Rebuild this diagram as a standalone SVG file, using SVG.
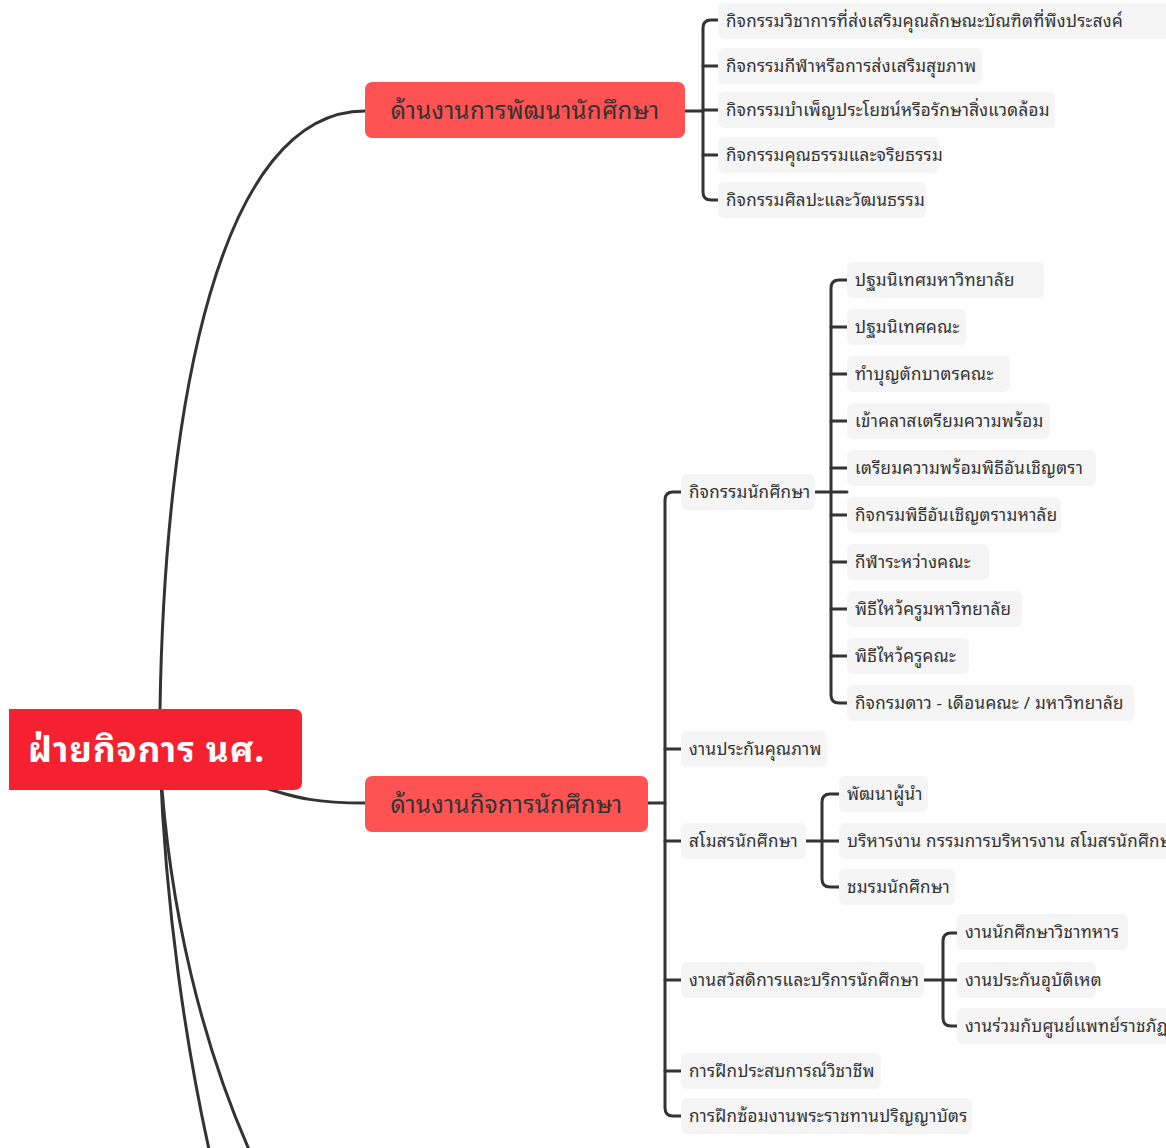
<svg xmlns="http://www.w3.org/2000/svg" width="1166" height="1148" viewBox="0 0 1166 1148">
<style>
.c{fill:none;stroke:#333;stroke-width:3;stroke-linecap:round;stroke-linejoin:round}
text{font-family:"Noto Sans Thai Looped","Noto Sans Thai","Noto Sans","DejaVu Sans",sans-serif}
.leaf rect{fill:#f5f5f5}
.leaf text{font-size:17px;fill:#333;letter-spacing:0.3px}
.main rect{fill:#ff5252}
.main text{font-size:24px;fill:#333;text-anchor:middle;letter-spacing:0.3px}
.root text{font-size:35px;font-weight:bold;fill:#fff;letter-spacing:1px}
</style>
<rect width="1166" height="1148" fill="#fff"/>
<g id="connectors">
<path class="c" d="M160,709 C165,400 220,111 365,111"/>
<path class="c" d="M250,783 C300,800 320,803 365,803"/>
<path class="c" d="M160,760 C165,900 185,1050 216,1180"/>
<path class="c" d="M160,760 C168,900 200,1050 263,1180"/>
<!-- node1 bracket -->
<path class="c" d="M685,111 H703"/>
<path class="c" d="M718,20 H711 Q703,20 703,28 V192 Q703,200 711,200 H718"/>
<path class="c" d="M703,66 H718 M703,110 H718 M703,155 H718"/>
<!-- node2 bracket -->
<path class="c" d="M648,803 H665"/>
<path class="c" d="M681,492 H673 Q665,492 665,500 V1108 Q665,1116 673,1116 H681"/>
<path class="c" d="M665,749 H681 M665,841 H681 M665,980 H681 M665,1071 H681"/>
<!-- กิจกรรมนักศึกษา bracket -->
<path class="c" d="M815,492 H847"/>
<path class="c" d="M847,280 H839 Q831,280 831,288 V695 Q831,703 839,703 H847"/>
<path class="c" d="M831,327 H847 M831,374 H847 M831,421 H847 M831,468 H847 M831,515 H847 M831,562 H847 M831,609 H847 M831,656 H847"/>
<!-- สโมสร bracket -->
<path class="c" d="M806,841 H839"/>
<path class="c" d="M839,794 H830 Q822,794 822,802 V879 Q822,887 830,887 H839"/>
<!-- สวัสดิการ bracket -->
<path class="c" d="M924,980 H957"/>
<path class="c" d="M957,933 H951 Q943,933 943,941 V1018 Q943,1026 951,1026 H957"/>
</g>
<g id="root" class="root">
<path d="M9,709 H294 Q302,709 302,717 V782 Q302,790 294,790 H9 Z" fill="#f52130"/>
<text x="28" y="762">ฝ่ายกิจการ นศ.</text>
</g>
<g id="n1" class="main"><rect x="365" y="82" width="320" height="56" rx="7"/><text x="525" y="119">ด้านงานการพัฒนานักศึกษา</text></g>
<g id="n2" class="main"><rect x="365" y="776" width="283" height="56" rx="7"/><text x="506.5" y="813">ด้านงานกิจการนักศึกษา</text></g>

<g id="n1a" class="leaf"><rect x="718" y="3" width="460" height="36" rx="6"/><text x="726" y="27">กิจกรรมวิชาการที่ส่งเสริมคุณลักษณะบัณฑิตที่พึงประสงค์</text></g>
<g id="n1b" class="leaf"><rect x="718" y="48" width="264" height="36" rx="6"/><text x="726" y="72">กิจกรรมกีฬาหรือการส่งเสริมสุขภาพ</text></g>
<g id="n1c" class="leaf"><rect x="718" y="92" width="337" height="36" rx="6"/><text x="726" y="116">กิจกรรมบำเพ็ญประโยชน์หรือรักษาสิ่งแวดล้อม</text></g>
<g id="n1d" class="leaf"><rect x="718" y="137" width="221" height="36" rx="6"/><text x="726" y="161">กิจกรรมคุณธรรมและจริยธรรม</text></g>
<g id="n1e" class="leaf"><rect x="718" y="182" width="208" height="36" rx="6"/><text x="726" y="206">กิจกรรมศิลปะและวัฒนธรรม</text></g>

<g id="n2a" class="leaf"><rect x="681" y="474" width="134" height="36" rx="6"/><text x="689" y="498">กิจกรรมนักศึกษา</text></g>
<g id="n2b" class="leaf"><rect x="681" y="731" width="146" height="36" rx="6"/><text x="689" y="755">งานประกันคุณภาพ</text></g>
<g id="n2c" class="leaf"><rect x="681" y="823" width="125" height="36" rx="6"/><text x="689" y="847">สโมสรนักศึกษา</text></g>
<g id="n2d" class="leaf"><rect x="681" y="962" width="243" height="36" rx="6"/><text x="689" y="986">งานสวัสดิการและบริการนักศึกษา</text></g>
<g id="n2e" class="leaf"><rect x="681" y="1053" width="200" height="36" rx="6"/><text x="689" y="1077">การฝึกประสบการณ์วิชาชีพ</text></g>
<g id="n2f" class="leaf"><rect x="681" y="1098" width="291" height="36" rx="6"/><text x="689" y="1122">การฝึกซ้อมงานพระราชทานปริญญาบัตร</text></g>

<g id="a1" class="leaf"><rect x="847" y="262" width="197" height="36" rx="6"/><text x="855" y="286">ปฐมนิเทศมหาวิทยาลัย</text></g>
<g id="a2" class="leaf"><rect x="847" y="309" width="119" height="36" rx="6"/><text x="855" y="333">ปฐมนิเทศคณะ</text></g>
<g id="a3" class="leaf"><rect x="847" y="356" width="163" height="36" rx="6"/><text x="855" y="380">ทำบุญตักบาตรคณะ</text></g>
<g id="a4" class="leaf"><rect x="847" y="403" width="203" height="36" rx="6"/><text x="855" y="427">เข้าคลาสเตรียมความพร้อม</text></g>
<g id="a5" class="leaf"><rect x="847" y="450" width="249" height="36" rx="6"/><text x="855" y="474">เตรียมความพร้อมพิธีอันเชิญตรา</text></g>
<g id="a6" class="leaf"><rect x="847" y="497" width="214" height="36" rx="6"/><text x="855" y="521">กิจกรมพิธีอันเชิญตรามหาลัย</text></g>
<g id="a7" class="leaf"><rect x="847" y="544" width="142" height="36" rx="6"/><text x="855" y="568">กีฬาระหว่างคณะ</text></g>
<g id="a8" class="leaf"><rect x="847" y="591" width="175" height="36" rx="6"/><text x="855" y="615">พิธีไหว้ครูมหาวิทยาลัย</text></g>
<g id="a9" class="leaf"><rect x="847" y="638" width="122" height="36" rx="6"/><text x="855" y="662">พิธีไหว้ครูคณะ</text></g>
<g id="a10" class="leaf"><rect x="847" y="685" width="287" height="36" rx="6"/><text x="855" y="709">กิจกรมดาว - เดือนคณะ / มหาวิทยาลัย</text></g>

<g id="b1" class="leaf"><rect x="839" y="776" width="89" height="36" rx="6"/><text x="847" y="800">พัฒนาผู้นำ</text></g>
<g id="b2" class="leaf"><rect x="839" y="823" width="340" height="36" rx="6"/><text x="847" y="847">บริหารงาน กรรมการบริหารงาน สโมสรนักศึกษา</text></g>
<g id="b3" class="leaf"><rect x="839" y="869" width="116" height="36" rx="6"/><text x="847" y="893">ชมรมนักศึกษา</text></g>

<g id="c1" class="leaf"><rect x="957" y="914" width="171" height="36" rx="6"/><text x="965" y="938">งานนักศึกษาวิชาทหาร</text></g>
<g id="c2" class="leaf"><rect x="957" y="962" width="139" height="36" rx="6"/><text x="965" y="986">งานประกันอุบัติเหต</text></g>
<g id="c3" class="leaf"><rect x="957" y="1008" width="220" height="36" rx="6"/><text x="965" y="1032">งานร่วมกับศูนย์แพทย์ราชภัฏ</text></g>
</svg>
